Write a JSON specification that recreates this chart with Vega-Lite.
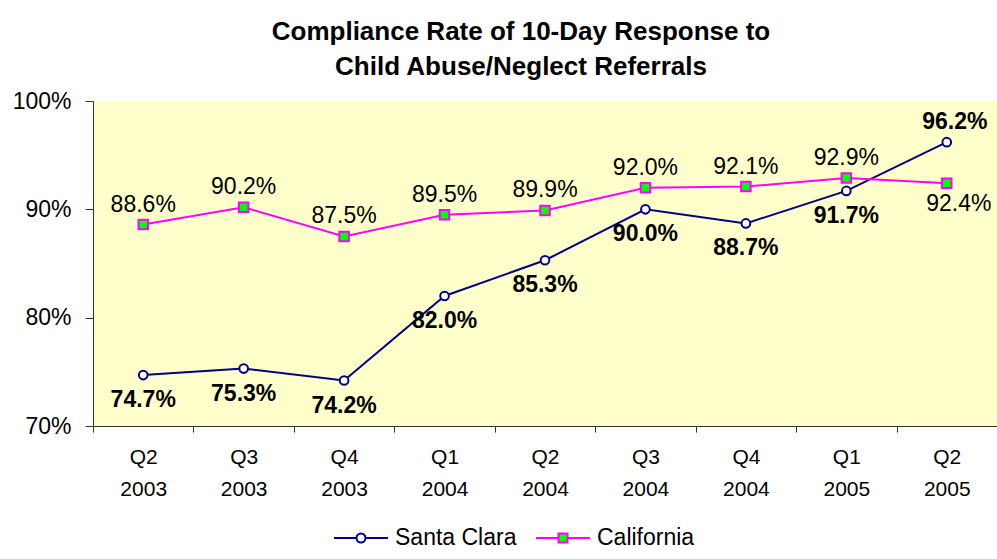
{
  "$schema": "https://vega.github.io/schema/vega-lite/v6.json",
  "autosize": "none",
  "width": 904,
  "height": 325,
  "padding": {"left": 93, "top": 101, "right": 0, "bottom": 133},
  "background": "white",
  "title": {
    "text": ["Compliance Rate of 10-Day Response to", "Child Abuse/Neglect Referrals"],
    "font": "Liberation Sans",
    "fontSize": 26,
    "fontWeight": "bold",
    "color": "black",
    "lineHeight": 35,
    "anchor": "middle",
    "dx": -24,
    "offset": 10
  },
  "config": {
    "view": {"fill": "#FFFFCC", "stroke": null},
    "font": "Liberation Sans"
  },
  "data": {
    "values": [
      {"q": "Q2 2003", "series": "Santa Clara", "rate": 0.747},
      {"q": "Q3 2003", "series": "Santa Clara", "rate": 0.753},
      {"q": "Q4 2003", "series": "Santa Clara", "rate": 0.742},
      {"q": "Q1 2004", "series": "Santa Clara", "rate": 0.820},
      {"q": "Q2 2004", "series": "Santa Clara", "rate": 0.853},
      {"q": "Q3 2004", "series": "Santa Clara", "rate": 0.900},
      {"q": "Q4 2004", "series": "Santa Clara", "rate": 0.887},
      {"q": "Q1 2005", "series": "Santa Clara", "rate": 0.917},
      {"q": "Q2 2005", "series": "Santa Clara", "rate": 0.962},
      {"q": "Q2 2003", "series": "California", "rate": 0.886},
      {"q": "Q3 2003", "series": "California", "rate": 0.902},
      {"q": "Q4 2003", "series": "California", "rate": 0.875},
      {"q": "Q1 2004", "series": "California", "rate": 0.895},
      {"q": "Q2 2004", "series": "California", "rate": 0.899},
      {"q": "Q3 2004", "series": "California", "rate": 0.920},
      {"q": "Q4 2004", "series": "California", "rate": 0.921},
      {"q": "Q1 2005", "series": "California", "rate": 0.929},
      {"q": "Q2 2005", "series": "California", "rate": 0.924}
    ]
  },
  "encoding": {
    "x": {
      "field": "q",
      "type": "ordinal",
      "sort": null,
      "scale": {"type": "band", "paddingInner": 0, "paddingOuter": 0},
      "axis": {
        "title": null,
        "labelAngle": 0,
        "labelExpr": "datum.value ? split(datum.value, ' ') : ''",
        "labelFont": "Liberation Sans",
        "labelFontSize": 21,
        "labelColor": "black",
        "labelLineHeight": 32,
        "labelBaseline": "top",
        "labelPadding": 14,
        "tickBand": "extent",
        "tickSize": 6,
        "tickColor": "#333333",
        "domainColor": "#333333",
        "grid": false
      }
    },
    "y": {
      "field": "rate",
      "type": "quantitative",
      "scale": {"domain": [0.7, 1.0], "nice": false, "zero": false},
      "axis": {
        "title": null,
        "values": [0.7, 0.8, 0.9, 1.0],
        "format": ".0%",
        "labelFont": "Liberation Sans",
        "labelFontSize": 23,
        "labelColor": "black",
        "labelPadding": 14,
        "tickSize": 8,
        "tickColor": "#333333",
        "domainColor": "#333333",
        "grid": false
      }
    }
  },
  "layer": [
    {
      "mark": {"type": "line", "strokeWidth": 2},
      "encoding": {
        "stroke": {
          "field": "series",
          "type": "nominal",
          "scale": {"domain": ["Santa Clara", "California"], "range": ["#000080", "#FF00FF"]},
          "legend": {
            "title": null,
            "orient": "none",
            "direction": "horizontal",
            "legendX": 240,
            "legendY": 409,
            "labelFont": "Liberation Sans",
            "labelFontSize": 23,
            "labelColor": "black",
            "labelOffset": 6,
            "columnPadding": 15,
            "symbolSize": 2916,
            "symbolStrokeWidth": 2,
            "symbolType": "M-1,0H-0.167M0.167,0H1",
            "encode": {
              "symbols": {
                "update": {
                  "shape": {"signal": "datum.value === 'Santa Clara' ? 'M-1,0H-0.167M0.167,0H1M-0.167,0A0.167,0.167 0 1,0 0.167,0A0.167,0.167 0 1,0 -0.167,0Z' : 'M-1,0H-0.167M0.167,0H1M-0.167,-0.167H0.167V0.167H-0.167Z'"},
                  "fill": {"signal": "datum.value === 'Santa Clara' ? 'white' : '#00FF00'"},
                  "fillOpacity": {"value": 1},
                  "strokeWidth": {"value": 2}
                }
              }
            }
          }
        }
      }
    },
    {
      "transform": [{"filter": "datum.series === 'Santa Clara'"}],
      "mark": {"type": "point", "shape": "circle", "size": 75, "fill": "white", "stroke": "#000080", "strokeWidth": 2, "opacity": 1, "fillOpacity": 1}
    },
    {
      "transform": [{"filter": "datum.series === 'California'"}],
      "mark": {"type": "point", "shape": "square", "size": 90, "fill": "#00FF00", "stroke": "#FF00FF", "strokeWidth": 2, "opacity": 1, "fillOpacity": 1}
    },
    {
      "transform": [{"filter": "datum.series === 'Santa Clara' && datum.q !== 'Q2 2005'"}],
      "mark": {"type": "text", "font": "Liberation Sans", "fontSize": 23, "fontWeight": "bold", "color": "black", "baseline": "middle", "dy": 25},
      "encoding": {"text": {"field": "rate", "type": "quantitative", "format": ".1%"}}
    },
    {
      "transform": [{"filter": "datum.series === 'Santa Clara' && datum.q === 'Q2 2005'"}],
      "mark": {"type": "text", "font": "Liberation Sans", "fontSize": 23, "fontWeight": "bold", "color": "black", "baseline": "middle", "dy": -20, "dx": 8},
      "encoding": {"text": {"field": "rate", "type": "quantitative", "format": ".1%"}}
    },
    {
      "transform": [{"filter": "datum.series === 'California' && datum.q !== 'Q2 2005'"}],
      "mark": {"type": "text", "font": "Liberation Sans", "fontSize": 23, "color": "black", "baseline": "middle", "dy": -20},
      "encoding": {"text": {"field": "rate", "type": "quantitative", "format": ".1%"}}
    },
    {
      "transform": [{"filter": "datum.series === 'California' && datum.q === 'Q2 2005'"}],
      "mark": {"type": "text", "font": "Liberation Sans", "fontSize": 23, "color": "black", "baseline": "middle", "dy": 21, "dx": 12},
      "encoding": {"text": {"field": "rate", "type": "quantitative", "format": ".1%"}}
    }
  ]
}
